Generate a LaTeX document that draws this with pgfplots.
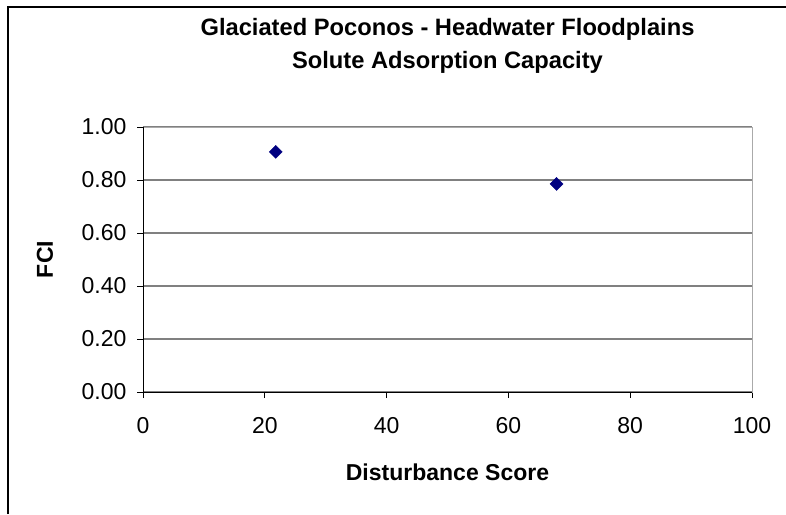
\documentclass[border=0pt]{standalone}
\usepackage{fontspec}
\setmainfont{Liberation Sans}
\usepackage{pgfplots}
\pgfplotsset{compat=1.18}

\definecolor{ptblue}{RGB}{0,0,128}
\definecolor{gridgray}{RGB}{128,128,128}
\definecolor{edgegray}{RGB}{170,170,170}

\begin{document}
\begin{tikzpicture}[x=1pt,y=1pt]
\useasboundingbox (0,0) rectangle (786,514);
% chart frame (top and left edges visible)
\draw[line width=1.5pt] (8,0) -- (8,507) -- (786,507);

\begin{axis}[
    at={(143pt,122pt)}, anchor=south west,
    scale only axis,
    width=609pt, height=265pt,
    xmin=0, xmax=100, ymin=0, ymax=1,
    xtick={0,20,40,60,80,100},
    ytick={0,0.2,0.4,0.6,0.8,1.0},
    yticklabel style={/pgf/number format/fixed, /pgf/number format/fixed zerofill,
        /pgf/number format/precision=2, xshift=-7pt},
    /pgf/number format/assume math mode=true,
    tick label style={font=\fontsize{23}{27}\selectfont, black},
    xticklabel style={yshift=-16pt},
    tick align=outside,
    major tick length=6pt,
    tick style={black, line width=0.8pt},
    xtick pos=bottom, ytick pos=left,
    ymajorgrids=true,
    grid style={gridgray, line width=1.2pt},
    axis line style={edgegray, line width=0.8pt},
    title={Glaciated Poconos - Headwater Floodplains\\Solute Adsorption Capacity},
    title style={at={(rel axis cs:0.5,1)}, anchor=south, yshift=47pt, inner sep=0pt,
        align=center, font=\fontsize{23.7}{33}\selectfont\bfseries},
    xlabel={Disturbance Score},
    ylabel={FCI},
    label style={font=\fontsize{23}{27}\selectfont\bfseries},
    xlabel style={at={(rel axis cs:0.5,0)}, anchor=base, yshift=-88pt, inner sep=0pt},
    ylabel style={at={(rel axis cs:0,0.5)}, anchor=center, yshift=98pt, inner sep=0pt},
    clip=false,
]
\addplot[only marks, mark=square*, mark size=4.6pt, color=ptblue,
    mark options={rotate=45}]
    coordinates {(21.8,0.906)(67.9,0.785)};
\draw[black, line width=1pt] (rel axis cs:0,1) -- (rel axis cs:0,0) -- (rel axis cs:1,0);
\end{axis}
\end{tikzpicture}
\end{document}
